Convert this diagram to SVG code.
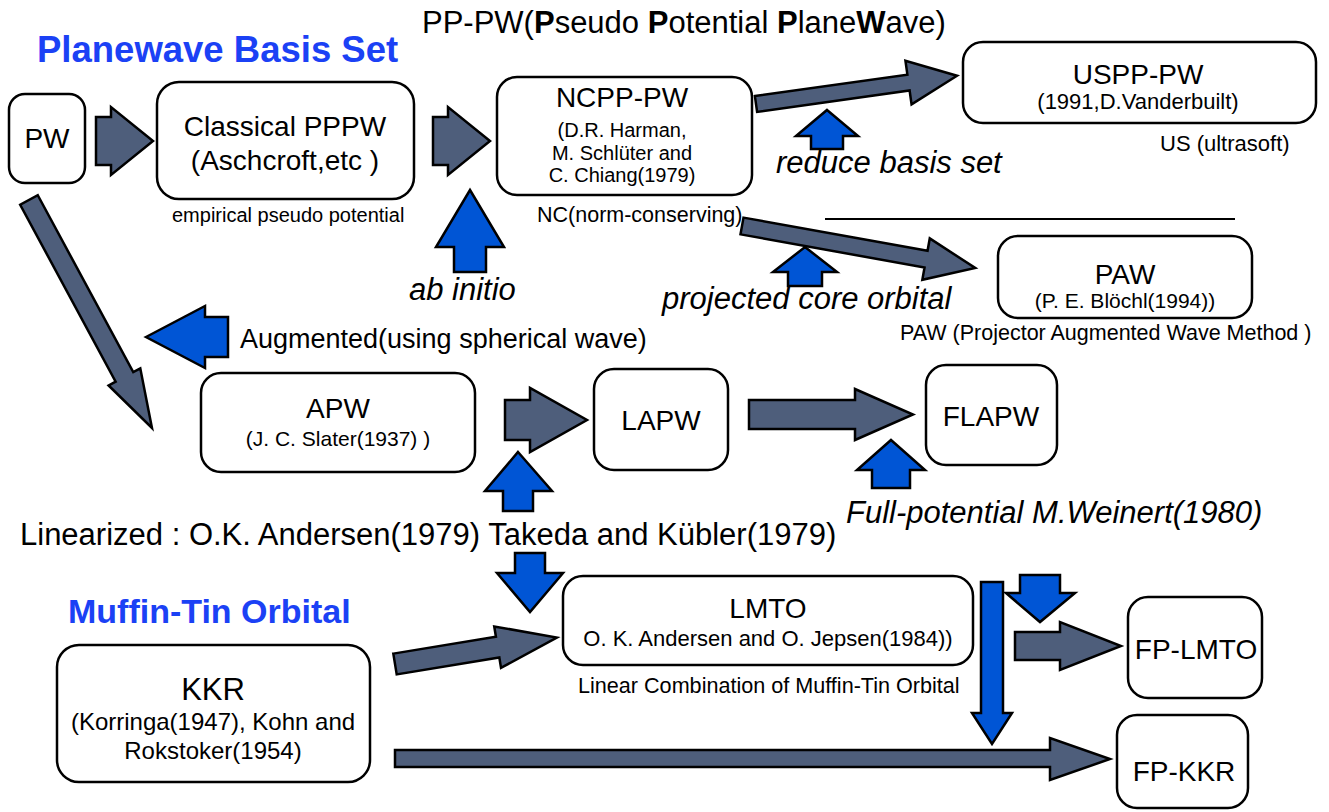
<svg xmlns="http://www.w3.org/2000/svg" width="1329" height="812" viewBox="0 0 1329 812">
  <style>
    text { font-family: "Liberation Sans", Arial, sans-serif; fill: #000; }
    .node rect { fill: #fff; stroke: #000; stroke-width: 2.5; }
    .mid { text-anchor: middle; }
    .t28 { font-size: 28px; }
    .t22 { font-size: 22px; }
    .t21 { font-size: 21px; }
    .note { font-size: 21.5px; }
    .big { font-size: 31px; }
    .it { font-style: italic; font-size: 31px; }
    .head { font-weight: bold; fill: #1b41f5; }
    .dark { fill: #4e5e7b; stroke: #000; stroke-width: 2.5; stroke-linejoin: miter; }
    .blue { fill: #0055d5; stroke: #000; stroke-width: 2.5; stroke-linejoin: miter; }
  </style>

  <!-- section headings and free labels -->
  <g id="labels">
    <text class="head" x="37" y="62" font-size="36.5">Planewave Basis Set</text>
    <text x="422" y="33" font-size="31">PP-PW(<tspan font-weight="bold">P</tspan>seudo <tspan font-weight="bold">P</tspan>otential <tspan font-weight="bold">P</tspan>lane<tspan font-weight="bold">W</tspan>ave)</text>
    <text class="head" x="68" y="623" font-size="34">Muffin-Tin Orbital</text>
    <text x="172" y="222" font-size="20">empirical pseudo potential</text>
    <text class="note" x="537" y="222">NC(norm-conserving)</text>
    <text x="1160" y="151" font-size="22">US (ultrasoft)</text>
    <text class="note" x="900" y="340">PAW (Projector Augmented Wave Method )</text>
    <text class="it" x="776" y="173">reduce basis set</text>
    <text class="it" x="409" y="300">ab initio</text>
    <text class="it" x="662" y="309">projected core orbital</text>
    <text x="240" y="348" font-size="27">Augmented(using spherical wave)</text>
    <text class="big" x="20" y="545">Linearized : O.K. Andersen(1979) Takeda and Kübler(1979)</text>
    <text class="it" x="846" y="523">Full-potential M.Weinert(1980)</text>
    <text x="578" y="693" font-size="21.6">Linear Combination of Muffin-Tin Orbital</text>
    <line x1="825" y1="219" x2="1235" y2="219" stroke="#000" stroke-width="2"/>
  </g>

  <!-- block arrows -->
  <g id="connectors">
    <!-- PW -> Classical PPPW -->
    <polygon class="dark" points="96,117 111,117 111,107 153,141 111,175 111,165 96,165"/>
    <!-- Classical PPPW -> NCPP-PW -->
    <polygon class="dark" points="433,117 448,117 448,107 490,141 448,175 448,165 433,165"/>
    <!-- NCPP-PW -> USPP-PW -->
    <polygon class="dark" transform="translate(756,104) rotate(-8)" points="0,-8 154,-8 154,-22 203,0 154,22 154,8 0,8"/>
    <!-- NCPP-PW -> PAW -->
    <polygon class="dark" transform="translate(742,226) rotate(10.2)" points="0,-8.5 187,-8.5 187,-21 237,0 187,21 187,8.5 0,8.5"/>
    <!-- PW -> APW -->
    <polygon class="dark" transform="translate(29,200) rotate(61.65)" points="0,-10 201,-10 201,-18 259,0 201,18 201,10 0,10"/>
    <!-- APW -> LAPW -->
    <polygon class="dark" points="505,400 530,400 530,388 587,420 530,452 530,440 505,440"/>
    <!-- LAPW -> FLAPW -->
    <polygon class="dark" points="749,400 855,400 855,389 913,414.5 855,440 855,429 749,429"/>
    <!-- KKR -> LMTO -->
    <polygon class="dark" transform="translate(395,664) rotate(-9.3)" points="0,-10.5 104,-10.5 104,-21 164,0 104,21 104,10.5 0,10.5"/>
    <!-- KKR -> FP-KKR -->
    <polygon class="dark" points="395,750 1050,750 1050,738 1110,759 1050,780 1050,767 395,767"/>
    <!-- LMTO -> FP-LMTO -->
    <polygon class="dark" points="1015,632 1060,632 1060,622 1121,646 1060,670 1060,660 1015,660"/>

    <!-- influence arrows -->
    <polygon class="blue" points="470,190 504,247 486,247 486,272 454,272 454,247 436,247"/>
    <polygon class="blue" points="827,110 858,136 843,136 843,149 811,149 811,136 796,136"/>
    <polygon class="blue" points="805,247 837,272 822,272 822,286 788,286 788,272 773,272"/>
    <polygon class="blue" points="146,337 205,306 205,317 228,317 228,357 205,357 205,368"/>
    <polygon class="blue" points="518,452 552,491 533,491 533,511 503,511 503,491 485,491"/>
    <polygon class="blue" points="515,553 545,553 545,573 563,573 530,612 497,573 515,573"/>
    <polygon class="blue" points="891,440 925,470 910,470 910,488 872,488 872,470 857,470"/>
    <polygon class="blue" points="981,582 1003,582 1003,713 1012,713 992,744 972,713 981,713"/>
    <polygon class="blue" points="1020,575 1060,575 1060,593 1075,593 1040,622 1006,593 1020,593"/>
  </g>

  <!-- nodes -->
  <g id="pw" class="node">
    <rect x="9" y="94" width="76" height="89" rx="16"/>
    <text class="mid t28" x="47" y="148">PW</text>
  </g>
  <g id="classical-pppw" class="node">
    <rect x="157" y="82" width="257" height="117" rx="22"/>
    <text class="mid t28" x="285" y="136">Classical PPPW</text>
    <text class="mid t28" x="285" y="170">(Aschcroft,etc )</text>
  </g>
  <g id="ncpp-pw" class="node">
    <rect x="497" y="77" width="255" height="118" rx="20"/>
    <text class="mid t28" x="622" y="107">NCPP-PW</text>
    <text class="mid" x="622" y="137" font-size="20">(D.R. Harman,</text>
    <text class="mid" x="622" y="160" font-size="20">M. Schlüter and</text>
    <text class="mid" x="622" y="182" font-size="20">C. Chiang(1979)</text>
  </g>
  <g id="uspp-pw" class="node">
    <rect x="963" y="42" width="353" height="81" rx="20"/>
    <text class="mid t28" x="1138" y="84">USPP-PW</text>
    <text class="mid t22" x="1138" y="109">(1991,D.Vanderbuilt)</text>
  </g>
  <g id="paw" class="node">
    <rect x="998" y="236" width="254" height="82" rx="20"/>
    <text class="mid t28" x="1125" y="284">PAW</text>
    <text class="mid t21" x="1125" y="308">(P. E. Blöchl(1994))</text>
  </g>
  <g id="apw" class="node">
    <rect x="201" y="373" width="274" height="99" rx="20"/>
    <text class="mid t28" x="338" y="418">APW</text>
    <text class="mid t21" x="338" y="446">(J. C. Slater(1937) )</text>
  </g>
  <g id="lapw" class="node">
    <rect x="594" y="369" width="134" height="101" rx="20"/>
    <text class="mid t28" x="661" y="430">LAPW</text>
  </g>
  <g id="flapw" class="node">
    <rect x="926" y="365" width="131" height="100" rx="20"/>
    <text class="mid t28" x="991" y="426">FLAPW</text>
  </g>
  <g id="lmto" class="node">
    <rect x="563" y="576" width="410" height="89" rx="20"/>
    <text class="mid t28" x="768" y="618">LMTO</text>
    <text class="mid t22" x="768" y="646">O. K. Andersen and O. Jepsen(1984))</text>
  </g>
  <g id="kkr" class="node">
    <rect x="57" y="645" width="313" height="137" rx="22"/>
    <text class="mid" x="213" y="700" font-size="31">KKR</text>
    <text class="mid" x="213" y="730" font-size="24">(Korringa(1947), Kohn and</text>
    <text class="mid" x="213" y="759" font-size="24">Rokstoker(1954)</text>
  </g>
  <g id="fp-lmto" class="node">
    <rect x="1128" y="597" width="134" height="101" rx="20"/>
    <text class="mid t28" x="1196" y="659">FP-LMTO</text>
  </g>
  <g id="fp-kkr" class="node">
    <rect x="1117" y="715" width="131" height="93" rx="20"/>
    <text class="mid t28" x="1184" y="781">FP-KKR</text>
  </g>
</svg>
